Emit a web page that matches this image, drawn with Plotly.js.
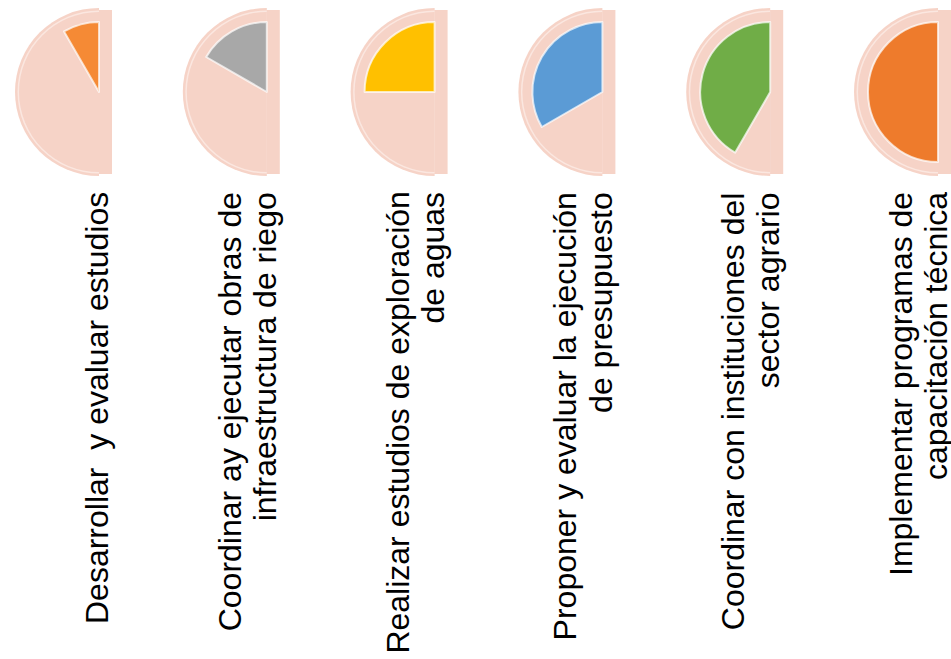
<!DOCTYPE html>
<html><head><meta charset="utf-8">
<script src="https://cdn.plot.ly/plotly-3.0.1.min.js"></script>
<style>html,body{margin:0;padding:0;overflow:hidden;background:#fff}#chart{width:1040px;height:659px}</style>
</head><body><div id="chart"></div>
<script>
// ---- data ----
const taskLine1 = [
  "Desarrollar\u00a0\u00a0y evaluar estudios",
  "Coordinar ay ejecutar obras de",
  "Realizar estudios de exploración",
  "Proponer y evaluar la ejecución",
  "Coordinar con instituciones del",
  "Implementar programas de"
];
const taskLine2 = [
  "",
  "infraestructura de riego",
  "de aguas",
  "de presupuesto",
  "sector agrario",
  "capacitación técnica"
];
const scores = [1, 2, 3, 4, 5, 6];
const maxScore = 6;
const sliceColors = ["#f58a35", "#a8a8a8", "#ffc000", "#5b9bd5", "#70ad47", "#ee7b2c"];

// ---- layout constants ----
const W = 1040, H = 659;
const firstCx = 99, stepCx = 167.8, cy = 92;
const rOuter = 84, rRim = 80, rInner = 70;
const pink = "#f6d3c7";
const rimPink = "#fbe7e0";
const clear = "rgba(0,0,0,0)";

function dom(cx, r) {
  return {x: [(cx - r) / W, (cx + r) / W], y: [1 - (cy + r) / H, 1 - (cy - r) / H]};
}
function halfPie(cx, r, color) {
  return {
    type: "pie", values: [maxScore, maxScore], sort: false, direction: "clockwise", rotation: 0,
    marker: {colors: [clear, color], line: {width: 0}},
    textinfo: "none", hoverinfo: "none", showlegend: false, domain: dom(cx, r)
  };
}

const traces = [], shapes = [], annotations = [];
scores.forEach((s, i) => {
  const cx = firstCx + i * stepCx;
  traces.push(halfPie(cx, rOuter, pink));
  traces.push(halfPie(cx, rRim + 1.5, rimPink));
  traces.push(halfPie(cx, rRim, pink));
  traces.push({
    type: "pie", values: [2 * maxScore - s, s], sort: false, direction: "clockwise", rotation: 0,
    marker: {colors: [clear, sliceColors[i]], line: {color: [clear, "rgba(255,255,255,0.7)"], width: [0, 2]}},
    textinfo: "none", hoverinfo: "none", showlegend: false, domain: dom(cx, rInner)
  });
  shapes.push({
    type: "rect", xref: "paper", yref: "paper", layer: "below",
    x0: (cx - 1) / W, x1: (cx + 13) / W, y0: 1 - (cy + 82) / H, y1: 1 - (cy - 82) / H,
    fillcolor: pink, line: {width: 0}
  });
  const lines = taskLine2[i] ? [taskLine1[i], taskLine2[i]] : [taskLine1[i]];
  lines.forEach((t, k) => {
    const lx = cx - 2 - (lines.length - 1 - k) * 35;
    annotations.push({
      text: t, xref: "paper", yref: "paper", x: lx / W, y: 1 - 190 / H,
      xanchor: "center", yanchor: "top", textangle: -90, showarrow: false,
      font: {family: "Liberation Sans, Arial, sans-serif", size: 32, color: "#000"}
    });
  });
});

Plotly.newPlot("chart", traces, {
  width: W, height: H, margin: {l: 0, r: 0, t: 0, b: 0},
  paper_bgcolor: "#fff", plot_bgcolor: "#fff",
  shapes: shapes, annotations: annotations, showlegend: false
}, {staticPlot: true});
</script></body></html>
